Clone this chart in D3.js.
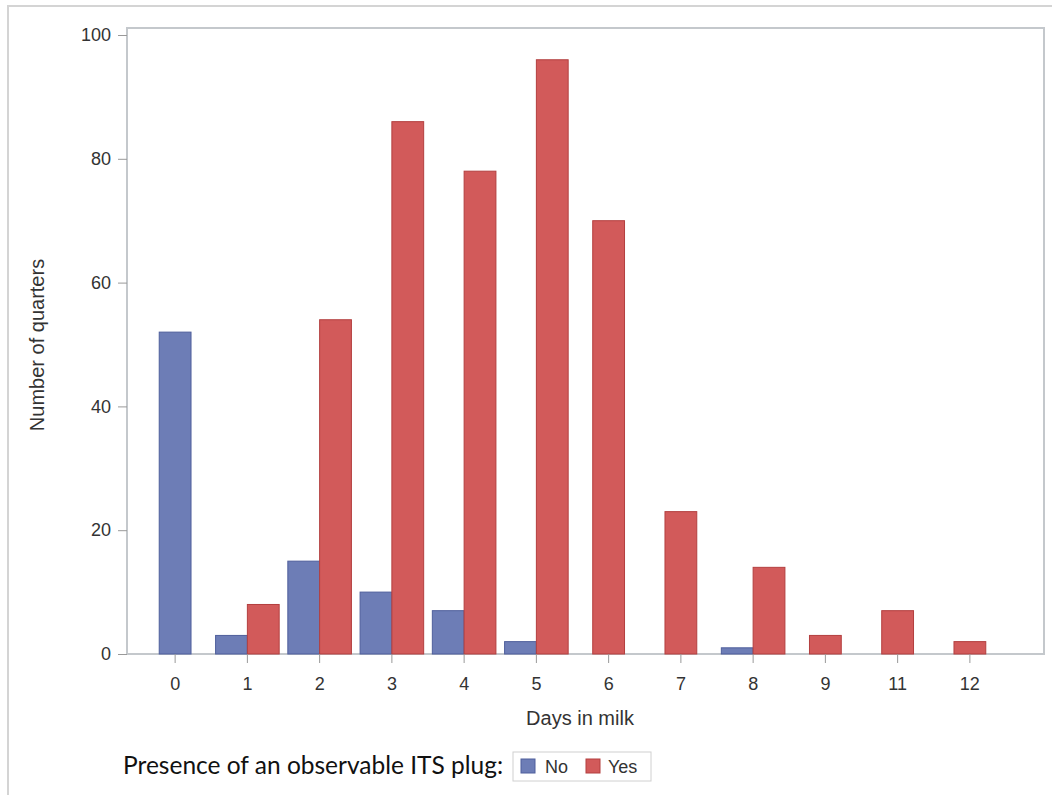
<!DOCTYPE html>
<html>
<head>
<meta charset="utf-8">
<script src="https://cdn.jsdelivr.net/npm/d3@7"></script>
<style>
  body { margin: 0; background: #fff; }
  svg text { font-family: "Liberation Sans", Arimo, Arial, Helvetica, sans-serif; }
</style>
</head>
<body>
<div id="chart"></div>
<script>
// Days in milk categories and counts per plug status
const days = ["0", "1", "2", "3", "4", "5", "6", "7", "8", "9", "11", "12"];
const noPlug = [52, 3, 15, 10, 7, 2, 0, 0, 1, 0, 0, 0];
const yesPlug = [0, 8, 54, 86, 78, 96, 70, 23, 14, 3, 7, 2];
const yTicks = [0, 20, 40, 60, 80, 100];
const seriesNames = ["No", "Yes"];

const colors = {No: "#6d7db6", Yes: "#d25a5a"};
const strokes = {No: "#4f5f9c", Yes: "#b33f3f"};

const width = 1052, height = 795;
const frame = {left: 127, top: 28, right: 1044, bottom: 654};
const axisFont = "Liberation Sans, Arimo, Arial, sans-serif";

const svg = d3.select("#chart")
    .append("svg")
    .attr("width", width)
    .attr("height", height);

// outer light border (top/left only visible in the picture)
svg.append("path")
    .attr("d", `M8,${height} L8,6 L${width},6`)
    .attr("fill", "none")
    .attr("stroke", "#d4d4d4")
    .attr("stroke-width", 2);

const x = d3.scaleBand()
    .domain(days)
    .range([139, 1006]);

const y = d3.scaleLinear()
    .domain([0, 100])
    .range([654, 35]);

// plot frame
svg.append("rect")
    .attr("x", frame.left)
    .attr("y", frame.top)
    .attr("width", frame.right - frame.left)
    .attr("height", frame.bottom - frame.top)
    .attr("fill", "none")
    .attr("stroke", "#c4c8cc")
    .attr("stroke-width", 2);

// bars: only non-zero series share a cluster, which stays centred on the tick
const groupWidth = x.bandwidth() * 0.88;
days.forEach((d, i) => {
    const vals = [{s: "No", v: noPlug[i]}, {s: "Yes", v: yesPlug[i]}].filter(e => e.v > 0);
    const cx = x(d) + x.bandwidth() / 2;
    const barW = groupWidth / 2;
    const inner = d3.scaleBand()
        .domain(vals.map(e => e.s))
        .range([cx - barW * vals.length / 2, cx + barW * vals.length / 2]);
    svg.selectAll(null)
        .data(vals)
        .enter()
        .append("rect")
        .attr("x", e => inner(e.s))
        .attr("width", inner.bandwidth())
        .attr("y", e => y(e.v))
        .attr("height", e => y(0) - y(e.v))
        .attr("fill", e => colors[e.s])
        .attr("stroke", e => strokes[e.s])
        .attr("stroke-width", 1);
});

// y axis
const yAxis = svg.append("g")
    .attr("transform", `translate(${frame.left}, 0)`)
    .call(d3.axisLeft(y).tickValues(yTicks).tickSize(9).tickPadding(7));
yAxis.select(".domain").remove();
yAxis.attr("font-family", axisFont);
yAxis.selectAll("line").attr("stroke", "#999");
yAxis.selectAll("text").style("font-size", "18px").attr("fill", "#333");

// x axis
const xAxis = svg.append("g")
    .attr("transform", `translate(0, ${frame.bottom})`)
    .call(d3.axisBottom(x).tickSize(9).tickPadding(14));
xAxis.select(".domain").remove();
xAxis.attr("font-family", axisFont);
xAxis.selectAll("line").attr("stroke", "#999");
xAxis.selectAll("text").style("font-size", "18px").attr("fill", "#333");

// axis titles
svg.append("text")
    .attr("x", 580)
    .attr("y", 725)
    .attr("text-anchor", "middle")
    .attr("fill", "#333")
    .style("font-size", "20px")
    .text("Days in milk");

svg.append("text")
    .attr("transform", "translate(44, 345) rotate(-90)")
    .attr("text-anchor", "middle")
    .attr("fill", "#333")
    .style("font-size", "20px")
    .text("Number of quarters");

// legend
svg.append("text")
    .attr("x", 123)
    .attr("y", 774)
    .style("font-family", "Lato, 'Open Sans', sans-serif")
    .style("font-size", "24.5px")
    .attr("fill", "#111")
    .text("Presence of an observable ITS plug:");

svg.append("rect")
    .attr("x", 513)
    .attr("y", 752)
    .attr("width", 138)
    .attr("height", 29)
    .attr("fill", "#fff")
    .attr("stroke", "#d0d0d0");

const legendX = [521, 586];
seriesNames.forEach((s, i) => {
    svg.append("rect")
        .attr("x", legendX[i])
        .attr("y", 759)
        .attr("width", 14)
        .attr("height", 14)
        .attr("fill", colors[s])
        .attr("stroke", strokes[s]);
    svg.append("text")
        .attr("x", legendX[i] + (i === 0 ? 24 : 22))
        .attr("y", 773)
        .attr("fill", "#333")
        .style("font-size", "18px")
        .text(s);
});
</script>
</body>
</html>
